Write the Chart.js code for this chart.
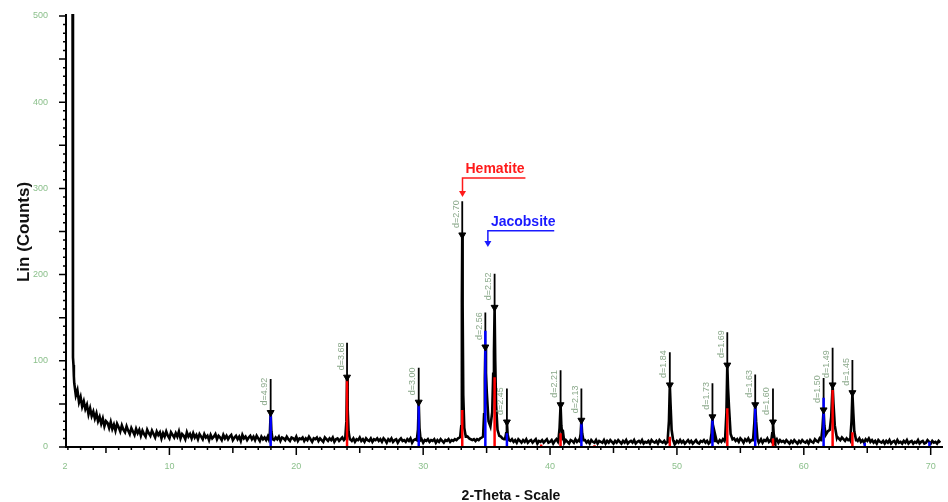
<!DOCTYPE html>
<html>
<head>
<meta charset="utf-8">
<title>XRD pattern</title>
<script src="https://cdn.jsdelivr.net/npm/chart.js@4.4.1/dist/chart.umd.min.js"></script>
<style>
  html, body { margin: 0; padding: 0; background: #fff; }
  #wrap { width: 948px; height: 502px; position: relative; }
</style>
</head>
<body>
<div id="wrap"><canvas id="xrdChart"></canvas></div>
<script>
// scan: counts on a regular 2-theta grid, one row = 2 degrees
const scanStart = 2.5;
const scanStep = 0.125;
const scanCounts = [
  74, 60, 66, 52, 58, 47, 53, 44, 49, 38, 45, 36, 41, 33, 39, 30,
  35, 27, 33, 24, 30, 28, 22, 29, 21, 26, 19, 27, 23, 18, 25, 20,
  17, 24, 19, 15, 22, 18, 14, 21, 16, 20, 13, 19, 15, 12, 20, 16,
  13, 19, 15, 11, 18, 14, 17, 10, 16, 12, 18, 13, 10, 17, 14, 11,
  16, 12, 18, 10, 15, 13, 9, 17, 12, 15, 10, 16, 11, 14, 9, 15,
  12, 9, 15, 11, 13, 8, 14, 10, 12, 15, 9, 13, 11, 8, 14, 10,
  13, 9, 12, 14, 8, 11, 13, 9, 12, 7, 14, 10, 12, 8, 11, 13,
  9, 12, 8, 13, 10, 7, 12, 9, 11, 8, 12, 10, 9, 12, 8, 11,
  9, 12, 7, 11, 10, 8, 12, 9, 7, 11, 10, 8, 12, 7, 10, 9,
  11, 7, 10, 8, 12, 9, 6, 10, 9, 11, 7, 10, 8, 6, 11, 9,
  7, 10, 8, 11, 6, 9, 10, 7, 9, 11, 8, 6, 10, 8, 9, 7,
  10, 6, 9, 8, 11, 7, 9, 6, 10, 8, 7, 10, 6, 9, 8, 10,
  7, 9, 6, 10, 8, 5, 9, 7, 10, 6, 8, 9, 5, 8, 10, 7,
  8, 6, 9, 7, 10, 5, 8, 9, 6, 8, 7, 9, 5, 8, 7, 9,
  6, 8, 7, 9, 5, 8, 6, 9, 7, 5, 8, 7, 9, 6, 8, 7,
  9, 8, 10, 11, 20, 60, 30, 13, 12, 10, 9, 8, 9, 7, 9, 8,
  10, 11, 14, 20, 40, 60, 30, 25, 30, 60, 50, 20, 13, 12, 10, 9,
  16, 20, 9, 7, 9, 6, 8, 5, 9, 7, 5, 8, 6, 9, 5, 7,
  8, 5, 7, 9, 4, 7, 6, 8, 5, 7, 9, 5, 6, 8, 4, 7,
  9, 6, 20, 40, 20, 5, 8, 6, 4, 8, 7, 5, 9, 6, 8, 15,
  25, 12, 8, 5, 7, 4, 8, 6, 5, 8, 4, 7, 6, 5, 8, 4,
  7, 5, 8, 6, 4, 7, 5, 8, 6, 4, 7, 5, 8, 4, 6, 7,
  5, 8, 4, 6, 7, 5, 8, 4, 6, 5, 7, 4, 8, 6, 5, 7,
  4, 8, 6, 5, 7, 4, 6, 30, 50, 20, 6, 4, 7, 5, 8, 5,
  7, 4, 6, 8, 5, 7, 4, 6, 8, 5, 4, 7, 6, 8, 5, 7,
  4, 6, 16, 30, 15, 7, 5, 8, 6, 9, 7, 10, 40, 68, 20, 9,
  10, 7, 9, 6, 10, 8, 5, 9, 7, 10, 6, 8, 9, 28, 30, 8,
  6, 9, 5, 8, 7, 10, 6, 8, 16, 15, 6, 9, 5, 8, 6, 7,
  5, 8, 6, 4, 7, 5, 8, 6, 4, 7, 5, 8, 6, 5, 7, 4,
  8, 6, 5, 9, 7, 6, 10, 8, 22, 40, 20, 16, 18, 30, 70, 50,
  25, 12, 10, 8, 11, 9, 7, 10, 8, 9, 30, 60, 18, 9, 7, 10,
  6, 8, 5, 9, 7, 10, 6, 8, 5, 7, 4, 8, 6, 5, 7, 4,
  7, 5, 8, 4, 6, 7, 4, 8, 5, 6, 4, 7, 5, 8, 4, 6,
  7, 4, 6, 5, 8, 4, 6, 7, 4, 5, 8, 6, 4, 7, 5, 6,
  4, 7, 5
];

// low angle rise (beam tail), [2theta, counts]
const lowAngle = [[2.0, 620], [2.36, 600], [2.4, 104], [2.44, 95], [2.47, 82]];

// peak profiles, [2theta, counts]
const peakProfiles = [
  [[17.83, 9], [17.92, 17], [17.98, 40], [18.04, 18], [18.13, 9]],
  [[23.86, 10], [23.95, 30], [24.0, 81], [24.05, 45], [24.12, 18], [24.22, 9]],
  [[29.5, 8], [29.59, 20], [29.65, 52], [29.71, 22], [29.8, 8]],
  [[32.92, 12], [33.0, 24], [33.04, 90], [33.06, 168], [33.08, 246], [33.11, 165], [33.16, 60], [33.24, 22], [33.36, 12]],
  [[34.72, 12], [34.8, 38], [34.86, 80], [34.9, 116], [34.95, 86], [35.02, 62], [35.15, 30], [35.3, 24],
   [35.44, 40], [35.52, 85], [35.58, 110], [35.63, 162], [35.68, 100], [35.75, 48], [35.86, 20], [36.0, 13]],
  [[36.45, 9], [36.54, 16], [36.6, 29], [36.66, 14], [36.76, 8]],
  [[40.66, 8], [40.75, 22], [40.83, 49], [40.89, 25], [40.99, 9]],
  [[42.32, 7], [42.41, 15], [42.47, 31], [42.53, 16], [42.63, 8]],
  [[49.27, 8], [49.37, 30], [49.44, 72], [49.5, 49], [49.58, 20], [49.7, 8]],
  [[52.64, 7], [52.73, 16], [52.8, 35], [52.86, 15], [52.96, 7]],
  [[53.8, 10], [53.9, 40], [53.97, 95], [54.03, 68], [54.11, 45], [54.23, 15], [54.38, 9]],
  [[56.0, 8], [56.1, 28], [56.17, 49], [56.24, 30], [56.35, 9]],
  [[57.43, 7], [57.51, 16], [57.57, 29], [57.63, 15], [57.73, 7]],
  [[61.38, 10], [61.47, 22], [61.56, 43], [61.62, 25], [61.72, 14], [61.88, 18], [62.05, 20],
   [62.16, 35], [62.27, 72], [62.34, 50], [62.44, 25], [62.6, 11]],
  [[63.66, 8], [63.76, 30], [63.83, 63], [63.9, 40], [63.98, 18], [64.12, 8]]
];

// d-value markers
const dPos   = [17.98, 24.0, 29.65, 33.08, 34.9, 35.63, 36.6, 40.83, 42.47, 49.44, 52.8, 53.97, 56.17, 57.57, 61.56, 62.27, 63.83];
const dPeak  = [40, 81, 52, 246, 116, 162, 29, 49, 31, 72, 35, 95, 49, 29, 43, 72, 63];
const dTop   = [79, 121, 92, 285, 156, 201, 68, 89, 68, 110, 74, 133, 84, 68, 80, 115, 101];
const dLabels = ['d=4.92', 'd=3.68', 'd=3.00', 'd=2.70', 'd=2.56', 'd=2.52', 'd=2.45', 'd=2.21', 'd=2.13',
                 'd=1.84', 'd=1.73', 'd=1.69', 'd=1.63', 'd=1.60', 'd=1.50', 'd=1.49', 'd=1.45'];

// reference sticks
const hematitePos = [24.0, 33.08, 35.63, 39.3, 40.83, 43.5, 49.44, 53.97, 57.57, 62.27, 63.83];
const hematiteInt = [78, 43, 81, 3, 16, 2, 12, 45, 10, 66, 17];
const jacobsitePos = [17.98, 29.65, 34.9, 36.6, 42.47, 52.8, 56.17, 61.56, 64.8, 69.9];
const jacobsiteInt = [37, 52, 135, 16, 31, 35, 49, 57, 5, 6];

// axis ticks
const xTickLabels = ['2', '10', '20', '30', '40', '50', '60', '70'];
const yTickLabels = ['0', '100', '200', '300', '400', '500'];

// phase call-outs
const phaseNames = ['Hematite', 'Jacobsite'];
const phaseColors = ['#ff1a1a', '#1a1aff'];
const phaseArrow = [
  { x: 33.1, tip: 290, bar: 312, end: 38.06 },
  { x: 35.1, tip: 232, bar: 251, end: 40.33 }
];

// build the pattern
const gridPts = scanCounts.map((c, i) => [scanStart + i * scanStep, c]);
const windows = peakProfiles.map(p => [p[0][0], p[p.length - 1][0]]);
const freeGrid = gridPts.filter(([x]) => !windows.some(([a, b]) => x >= a && x <= b));
const pattern = lowAngle.concat(freeGrid, ...peakProfiles)
  .sort((a, b) => a[0] - b[0])
  .map(([x, y]) => ({ x, y }));

function sticks(pos, from, to) {
  const out = [];
  pos.forEach((x, i) => {
    out.push({ x, y: from[i] }, { x, y: to[i] }, { x, y: null });
  });
  return out;
}

const zeros = arr => arr.map(() => 0);

const FONT = "'Liberation Sans', Arial, sans-serif";
const tickGreen = '#8cc08c';

const xrdDecor = {
  id: 'xrdDecor',
  afterDatasetsDraw(chart) {
    const { ctx, chartArea: a, scales: { x, y } } = chart;
    ctx.save();

    // d labels
    ctx.fillStyle = '#8aa88a';
    ctx.font = `9px ${FONT}`;
    ctx.textAlign = 'left';
    ctx.textBaseline = 'middle';
    dPos.forEach((v, i) => {
      const px = x.getPixelForValue(v) - 6;
      const py = y.getPixelForValue(dPeak[i]) - 7;
      ctx.save();
      ctx.translate(px, py);
      ctx.rotate(-Math.PI / 2);
      ctx.fillText(dLabels[i], 0, 0);
      ctx.restore();
    });

    // phase call-outs
    phaseNames.forEach((name, i) => {
      const p = phaseArrow[i];
      const ax = x.getPixelForValue(p.x);
      const ex = x.getPixelForValue(p.end);
      const by = y.getPixelForValue(p.bar);
      const ty = y.getPixelForValue(p.tip);
      ctx.strokeStyle = phaseColors[i];
      ctx.fillStyle = phaseColors[i];
      ctx.lineWidth = 1.5;
      ctx.beginPath();
      ctx.moveTo(ex, by);
      ctx.lineTo(ax, by);
      ctx.lineTo(ax, ty - 4);
      ctx.stroke();
      ctx.beginPath();
      ctx.moveTo(ax - 3.5, ty - 6);
      ctx.lineTo(ax + 3.5, ty - 6);
      ctx.lineTo(ax, ty);
      ctx.closePath();
      ctx.fill();
      ctx.font = `bold 14px ${FONT}`;
      ctx.textAlign = 'left';
      ctx.textBaseline = 'alphabetic';
      ctx.fillText(name, ax + 3, by - 5);
    });

    // axes
    ctx.strokeStyle = '#000';
    ctx.lineWidth = 2;
    ctx.beginPath();
    ctx.moveTo(a.left, a.top);
    ctx.lineTo(a.left, a.bottom);
    ctx.lineTo(a.right, a.bottom);
    ctx.stroke();

    ctx.lineWidth = 1.5;
    ctx.beginPath();
    for (let v = 0; v <= 500; v += 10) {
      const py = y.getPixelForValue(v);
      const len = v % 50 === 0 ? 7 : 3;
      ctx.moveTo(a.left, py);
      ctx.lineTo(a.left - len, py);
    }
    for (let v = 2; v <= 70; v++) {
      const px = x.getPixelForValue(v);
      const len = v % 10 === 0 ? 8 : (v % 5 === 0 ? 6 : 3);
      ctx.moveTo(px, a.bottom);
      ctx.lineTo(px, a.bottom + len);
    }
    ctx.stroke();

    // tick labels
    ctx.fillStyle = tickGreen;
    ctx.font = `9px ${FONT}`;
    ctx.textAlign = 'right';
    ctx.textBaseline = 'middle';
    yTickLabels.forEach(t => ctx.fillText(t, a.left - 18, y.getPixelForValue(+t)));
    ctx.textAlign = 'center';
    ctx.textBaseline = 'middle';
    xTickLabels.forEach(t => ctx.fillText(t, x.getPixelForValue(+t) - (t === '2' ? 3 : 0), a.bottom + 20));

    // titles
    ctx.fillStyle = '#111';
    ctx.font = `bold 17px ${FONT}`;
    ctx.save();
    ctx.translate(24, 232);
    ctx.rotate(-Math.PI / 2);
    ctx.textAlign = 'center';
    ctx.fillText('Lin (Counts)', 0, 0);
    ctx.restore();
    ctx.font = `bold 14px ${FONT}`;
    ctx.textAlign = 'center';
    ctx.fillText('2-Theta - Scale', 511, 496);

    ctx.restore();
  }
};

new Chart(document.getElementById('xrdChart'), {
  type: 'line',
  data: {
    datasets: [
      {
        label: 'peak tops',
        data: dPos.map((v, i) => ({ x: v, y: dPeak[i] })),
        showLine: false,
        pointStyle: 'triangle',
        rotation: 180,
        pointRadius: 4,
        pointBackgroundColor: '#000',
        pointBorderColor: '#000',
        order: 0
      },
      {
        label: 'Hematite',
        data: sticks(hematitePos, zeros(hematitePos), hematiteInt),
        borderColor: '#ff0000',
        borderWidth: 2.5,
        pointRadius: 0,
        spanGaps: false,
        order: 1
      },
      {
        label: 'Jacobsite',
        data: sticks(jacobsitePos, zeros(jacobsitePos), jacobsiteInt),
        borderColor: '#0000ff',
        borderWidth: 2.5,
        pointRadius: 0,
        spanGaps: false,
        order: 1
      },
      {
        label: 'd markers',
        data: sticks(dPos, dPeak, dTop),
        borderColor: '#000',
        borderWidth: 1.8,
        pointRadius: 0,
        spanGaps: false,
        order: 2
      },
      {
        label: 'pattern',
        data: pattern,
        borderColor: '#000',
        borderWidth: 2.6,
        pointRadius: 0,
        tension: 0,
        order: 3
      }
    ]
  },
  options: {
    responsive: true,
    maintainAspectRatio: false,
    animation: false,
    layout: { padding: { left: 66, right: 0, top: 14, bottom: 55 } },
    plugins: { legend: { display: false }, tooltip: { enabled: false } },
    scales: {
      x: { type: 'linear', min: 1.85, max: 70.97, display: false },
      y: { type: 'linear', min: 0, max: 502.3, display: false }
    }
  },
  plugins: [xrdDecor]
});
</script>
</body>
</html>
